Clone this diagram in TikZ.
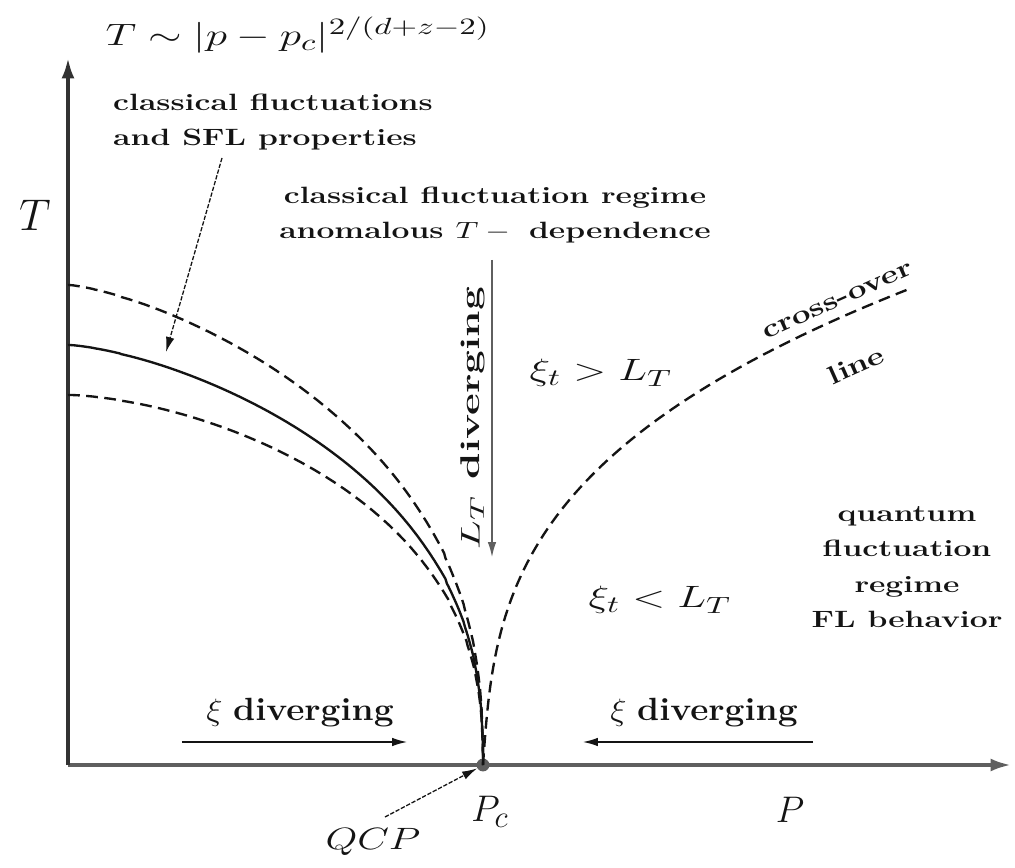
\documentclass[tikz,border=0pt]{standalone}
\usepackage{amsmath,amssymb}
\usetikzlibrary{arrows.meta}
\definecolor{ink}{RGB}{20,20,20}
\definecolor{yaxis}{RGB}{50,50,50}
\definecolor{xaxis}{RGB}{95,95,95}
\tikzset{
  axisline/.style={line width=2.3pt, -{Latex[length=10pt,width=6pt]}},
  curve/.style={line width=1.1pt, draw=ink},
  dcurve/.style={curve, dash pattern=on 5.5pt off 3pt},
  parr/.style={line width=0.6pt, draw=ink, -{Latex[length=7pt,width=4pt]}},
  darr/.style={parr, dash pattern=on 2pt off 0.8pt},
  lbl/.style={font=\fontsize{11}{16.5}\selectfont\bfseries, align=center, text=ink, xscale=1.35},
  vlbl/.style={font=\fontsize{11}{13}\selectfont\bfseries, text=ink, rotate=90, xscale=1.8, yscale=1.15},
  slbl/.style={font=\fontsize{12}{14}\selectfont\bfseries, text=ink, inner sep=0pt, rotate=24, xscale=1.3},
  bigmath/.style={font=\fontsize{15}{18}\selectfont, text=ink, xscale=1.4},
  axlbl/.style={font=\fontsize{19}{22}\selectfont, text=ink},
  xilbl/.style={font=\fontsize{15}{18}\selectfont, text=ink, xscale=1.1},
}
\begin{document}
\begin{tikzpicture}[x=0.0164cm, y=0.0164cm]
  \useasboundingbox (-68,-103) rectangle (947,765);

  % axes
  \coordinate (origin) at (0,0);
  \coordinate (ymax) at (0,708);
  \coordinate (xmax) at (944,0);
  \draw[axisline, draw=xaxis] (origin) -- (xmax);
  \draw[axisline, draw=yaxis] (origin) -- (ymax);
  \node[circle, fill=xaxis, inner sep=0pt, minimum size=6pt] (pc) at (415,0) {};

  % left branch: solid line with two dashed ones
  \draw[dcurve] (0,480) -- plot[domain=0.5:414.9, samples=300] (\x,{480*(1-(\x/415)^1.373)^0.4}) -- (pc.center);
  \draw[curve] (0,420) -- plot[domain=0.5:414.9, samples=300] (\x,{420*(1-(\x/415)^1.44)^0.4}) -- (pc.center);
  \draw[dcurve] (0,370) -- plot[domain=0.5:414.9, samples=300] (\x,{370*(1-(\x/415)^1.609)^0.4}) -- (pc.center);
  % cross-over line
  \draw[dcurve] plot[domain=0:475, samples=150] ({415+(\x/65)*(\x/65)*(\x/65)+0.07*\x}, \x);

  % labels
  \node[axlbl, font=\fontsize{20}{24}\selectfont] (tlabel) at (-33,550) {$T$};
  \node[bigmath, anchor=west] (law) at (27,730) {$T \sim |p-p_c|^{2/(d+z-2)}$};
  \node[lbl, align=left, anchor=west] (sfl) at (35,643) {classical fluctuations\\and SFL properties};
  \node[lbl] (classreg) at (427,550) {classical fluctuation regime\\anomalous $T -{}$ dependence};
  \node[vlbl] (ltdiv) at (405,347) {$L_T$ diverging};
  \node[bigmath] (xigt) at (533,392) {$\xi_t > L_T$};
  \node[bigmath] (xilt) at (592,165) {$\xi_t < L_T$};
  \node[slbl] (cross) at (770,464) {cross-over};
  \node[slbl] (crossline) at (788,400) {line};
  \node[lbl] (quantum) at (839,198) {quantum\\fluctuation\\regime\\FL behavior};
  \node[xilbl] (xileft) at (232,52) {$\xi$ \textbf{diverging}};
  \node[xilbl] (xiright) at (636,52) {$\xi$ \textbf{diverging}};
  \node[axlbl] (pclabel) at (422,-47) {$P_c$};
  \node[axlbl] (plabel) at (722,-45) {$P$};
  \node[bigmath, xscale=0.95] (qcp) at (305,-77) {$QCP$};

  % arrows
  \coordinate (sflfrom) at (154,607);
  \coordinate (sflto) at (98,413);
  \draw[darr] (sflfrom) -- (sflto);
  \coordinate (ltfrom) at (424,505);
  \coordinate (ltto) at (424,208);
  \draw[parr, draw=xaxis] (ltfrom) -- (ltto);
  \coordinate (xl1) at (114,23);
  \coordinate (xl2) at (339,23);
  \draw[parr] (xl1) -- (xl2);
  \coordinate (xr1) at (745,23);
  \coordinate (xr2) at (515,23);
  \draw[parr] (xr1) -- (xr2);
  \coordinate (qcpfrom) at (317,-52);
  \draw[darr] (qcpfrom) -- (pc.210);
\end{tikzpicture}
\end{document}
